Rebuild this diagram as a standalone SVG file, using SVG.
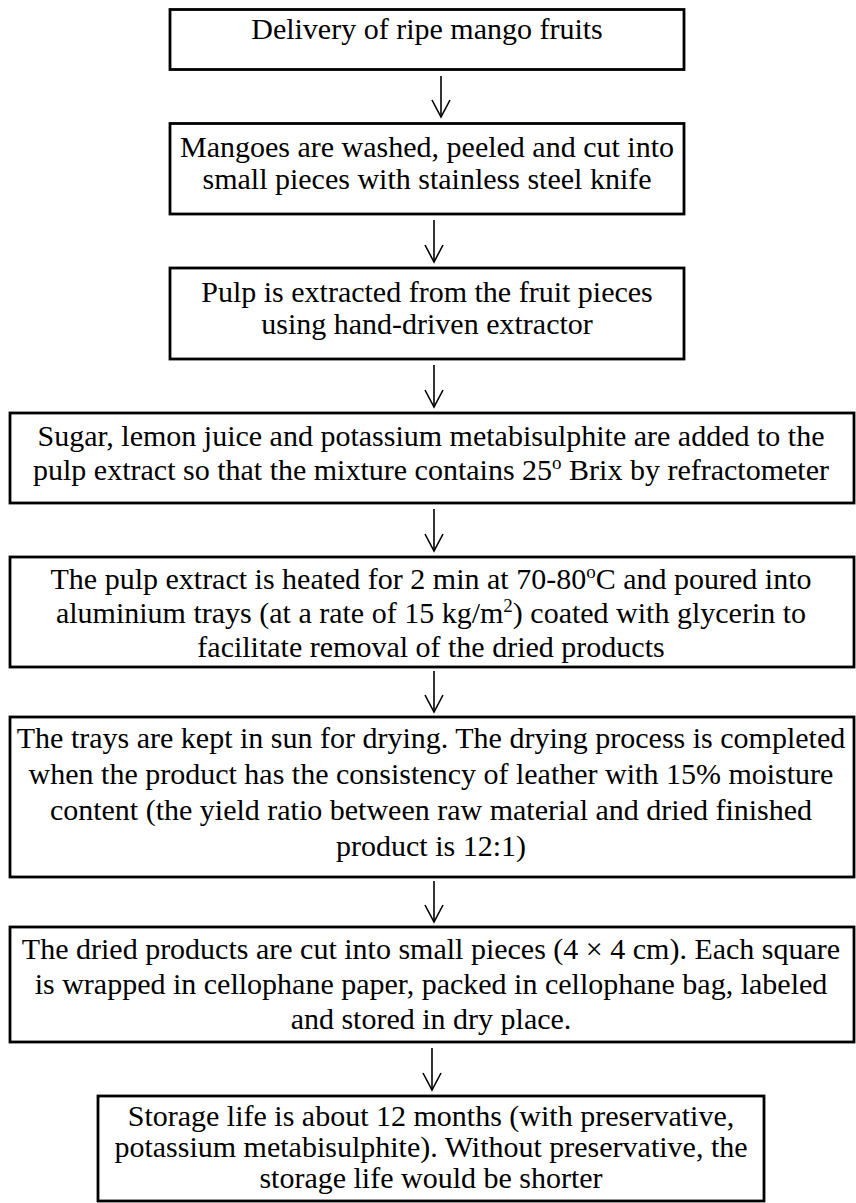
<svg xmlns="http://www.w3.org/2000/svg" width="856" height="1203" viewBox="0 0 856 1203">
<style>
.box{fill:#fff;stroke:#000;stroke-width:2.8}
.t{font-family:"Liberation Serif","Times New Roman",serif;font-size:30px;fill:#000;text-anchor:middle}
.sup{font-size:19px}
.c{stroke:#000;stroke-width:1.6;fill:none}
</style>
<defs>
<marker id="ah" markerUnits="userSpaceOnUse" viewBox="0 0 20 20" refX="18" refY="10" markerWidth="20" markerHeight="20" orient="auto">
<path d="M1,1 L18,10 L1,19" fill="none" stroke="#000" stroke-width="1.6"/>
</marker>
</defs>
<rect width="856" height="1203" fill="#fff"/>
<g id="connectors">
<line class="c" x1="441" y1="76" x2="441" y2="117" marker-end="url(#ah)"/>
<line class="c" x1="434" y1="220" x2="434" y2="262" marker-end="url(#ah)"/>
<line class="c" x1="434" y1="365" x2="434" y2="407" marker-end="url(#ah)"/>
<line class="c" x1="434" y1="509" x2="434" y2="551" marker-end="url(#ah)"/>
<line class="c" x1="434" y1="671" x2="434" y2="712" marker-end="url(#ah)"/>
<line class="c" x1="434" y1="881" x2="434" y2="922" marker-end="url(#ah)"/>
<line class="c" x1="432" y1="1048" x2="432" y2="1090" marker-end="url(#ah)"/>
</g>
<g id="n1">
<rect class="box" x="170" y="9.5" width="514" height="60"/>
<text class="t" x="427" y="39">Delivery of ripe mango fruits</text>
</g>
<g id="n2">
<rect class="box" x="170" y="123.5" width="514" height="90.5"/>
<text class="t" x="427" y="157">Mangoes are washed, peeled and cut into</text>
<text class="t" x="427" y="189">small pieces with stainless steel knife</text>
</g>
<g id="n3">
<rect class="box" x="170" y="268" width="514" height="91"/>
<text class="t" x="427" y="302">Pulp is extracted from the fruit pieces</text>
<text class="t" x="427" y="334">using hand-driven extractor</text>
</g>
<g id="n4">
<rect class="box" x="10" y="413" width="844" height="90"/>
<text class="t" x="431" y="446">Sugar, lemon juice and potassium metabisulphite are added to the</text>
<text class="t" x="431" y="480">pulp extract so that the mixture contains 25<tspan class="sup" dy="-11">o</tspan><tspan dy="11"> Brix by refractometer</tspan></text>
</g>
<g id="n5">
<rect class="box" x="10" y="557" width="844" height="110"/>
<text class="t" x="431" y="589">The pulp extract is heated for 2 min at 70-80<tspan class="sup" dy="-11">o</tspan><tspan dy="11">C and poured into</tspan></text>
<text class="t" x="431" y="623">aluminium trays (at a rate of 15 kg/m<tspan class="sup" dy="-11">2</tspan><tspan dy="11">) coated with glycerin to</tspan></text>
<text class="t" x="431" y="657">facilitate removal of the dried products</text>
</g>
<g id="n6">
<rect class="box" x="10" y="717" width="844" height="160"/>
<text class="t" x="431" y="748">The trays are kept in sun for drying. The drying process is completed</text>
<text class="t" x="431" y="784">when the product has the consistency of leather with 15% moisture</text>
<text class="t" x="431" y="820">content (the yield ratio between raw material and dried finished</text>
<text class="t" x="431" y="856">product is 12:1)</text>
</g>
<g id="n7">
<rect class="box" x="10" y="927" width="844" height="115"/>
<text class="t" x="431" y="959">The dried products are cut into small pieces (4 × 4 cm). Each square</text>
<text class="t" x="431" y="994">is wrapped in cellophane paper, packed in cellophane bag, labeled</text>
<text class="t" x="431" y="1029">and stored in dry place.</text>
</g>
<g id="n8">
<rect class="box" x="98" y="1096" width="666" height="105"/>
<text class="t" x="431" y="1126">Storage life is about 12 months (with preservative,</text>
<text class="t" x="431" y="1157">potassium metabisulphite). Without preservative, the</text>
<text class="t" x="431" y="1188">storage life would be shorter</text>
</g>
</svg>
